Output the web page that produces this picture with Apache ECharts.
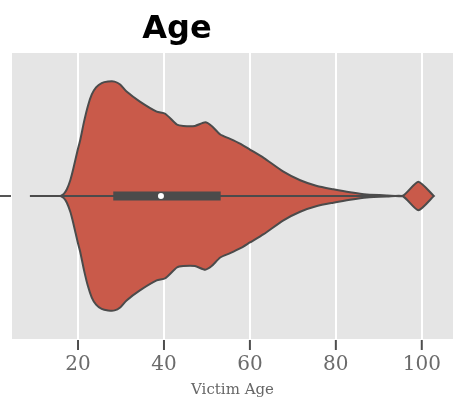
<!DOCTYPE html>
<html>
<head>
<meta charset="utf-8">
<script src="https://cdn.jsdelivr.net/npm/echarts@6/dist/echarts.min.js"></script>
<style>
  html, body { margin: 0; padding: 0; background: #fff; }
  #main { width: 454px; height: 403px; }
</style>
</head>
<body>
<div id="main"></div>
<script>
// violin outline: age and half width (density axis runs 0..2, centre at 1)
let ages = [15.9, 16.7, 17.4, 18.2, 18.9, 19.9, 20.5, 21.4, 22.3, 23.2, 24.2, 25.5, 27.0, 28.5, 29.8, 31.3, 34.4, 38.3, 40.3, 43.0, 44.5, 47.2, 49.6, 51.1, 53.1, 55.4, 57.7, 60.0, 63.2, 67.8, 71.7, 75.6, 79.4, 83.3, 87.2, 92.0, 95.6, 99.2, 102.8]
let widths = [0, 0.015, 0.047, 0.11, 0.19, 0.32, 0.39, 0.52, 0.63, 0.71, 0.76, 0.79, 0.80, 0.80, 0.78, 0.73, 0.66, 0.59, 0.575, 0.50, 0.49, 0.49, 0.515, 0.49, 0.43, 0.40, 0.367, 0.325, 0.267, 0.17, 0.11, 0.07, 0.047, 0.026, 0.01, 0.004, 0.002, 0.10, 0]

// inner box
let whiskerLow = 8.8
let q1 = 28.2
let median = 39.3
let q3 = 53.2
let whiskerHigh = 95.6

let tickValues = [20, 40, 60, 80, 100]

let lineColor = '#4b4b4b'
let mid = 1

function renderViolin(params, api) {
    let upper = []
    let lower = []
    for (let i = 0; i < ages.length; i++) {
        upper.push(api.coord([ages[i], mid + widths[i]]))
        lower.unshift(api.coord([ages[i], mid - widths[i]]))
    }
    let points = upper.concat(lower)

    let wl = api.coord([whiskerLow, mid])
    let wh = api.coord([whiskerHigh, mid])
    let b1 = api.coord([q1, mid])
    let b2 = api.coord([q3, mid])
    let m = api.coord([median, mid])

    return {
        type: 'group',
        children: [
            {
                type: 'polygon',
                shape: { points: points, smooth: 0.2 },
                style: { fill: '#c95a4a', stroke: lineColor, lineWidth: 2 }
            },
            {
                type: 'line',
                shape: { x1: wl[0], y1: wl[1], x2: wh[0], y2: wh[1] },
                style: { stroke: lineColor, lineWidth: 2 }
            },
            {
                type: 'rect',
                shape: { x: b1[0], y: b1[1] - 4.5, width: b2[0] - b1[0], height: 9 },
                style: { fill: lineColor }
            },
            {
                type: 'circle',
                shape: { cx: m[0], cy: m[1], r: 3 },
                style: { fill: '#fff' }
            }
        ]
    }
}

var myChart = echarts.init(document.getElementById('main'))

var option = {
    animation: false,
    title: {
        text: 'Age',
        left: 172,
        top: 9,
        textAlign: 'center',
        textStyle: {
            fontFamily: 'DejaVu Sans',
            fontWeight: 'bold',
            fontSize: 32,
            color: '#000'
        }
    },
    grid: {
        left: 11,
        right: 0,
        top: 53,
        bottom: 64,
        show: true,
        backgroundColor: '#e5e5e5',
        borderWidth: 0
    },
    xAxis: {
        type: 'value',
        min: 4.4,
        max: 107.5,
        name: 'Victim Age',
        nameLocation: 'middle',
        nameGap: 44,
        nameTextStyle: {
            fontFamily: 'DejaVu Serif',
            fontSize: 15,
            color: '#666'
        },
        axisLine: { show: false, onZero: false },
        axisTick: { show: false },
        axisLabel: {
            customValues: tickValues,
            margin: 1,
            // tick mark drawn as the first line of each label
            formatter: function (v) {
                return '{t|}\n{v|' + v + '}'
            },
            rich: {
                t: { width: 2, height: 10, lineHeight: 10, backgroundColor: '#4d4d4d' },
                v: {
                    fontFamily: 'DejaVu Serif',
                    fontSize: 20,
                    lineHeight: 30,
                    color: '#6b6b6b'
                }
            }
        },
        splitLine: {
            show: true,
            lineStyle: { color: '#fff', width: 2 }
        }
    },
    yAxis: {
        type: 'value',
        min: 0,
        max: 2,
        axisLine: { show: false, onZero: false },
        axisLabel: { show: false },
        splitLine: { show: false },
        axisTick: {
            show: true,
            customValues: [mid],
            length: 11,
            lineStyle: { color: '#555', width: 2 }
        }
    },
    series: [
        {
            type: 'custom',
            renderItem: renderViolin,
            data: [[0, mid]],
            silent: true
        }
    ]
}

myChart.setOption(option)
</script>
</body>
</html>
